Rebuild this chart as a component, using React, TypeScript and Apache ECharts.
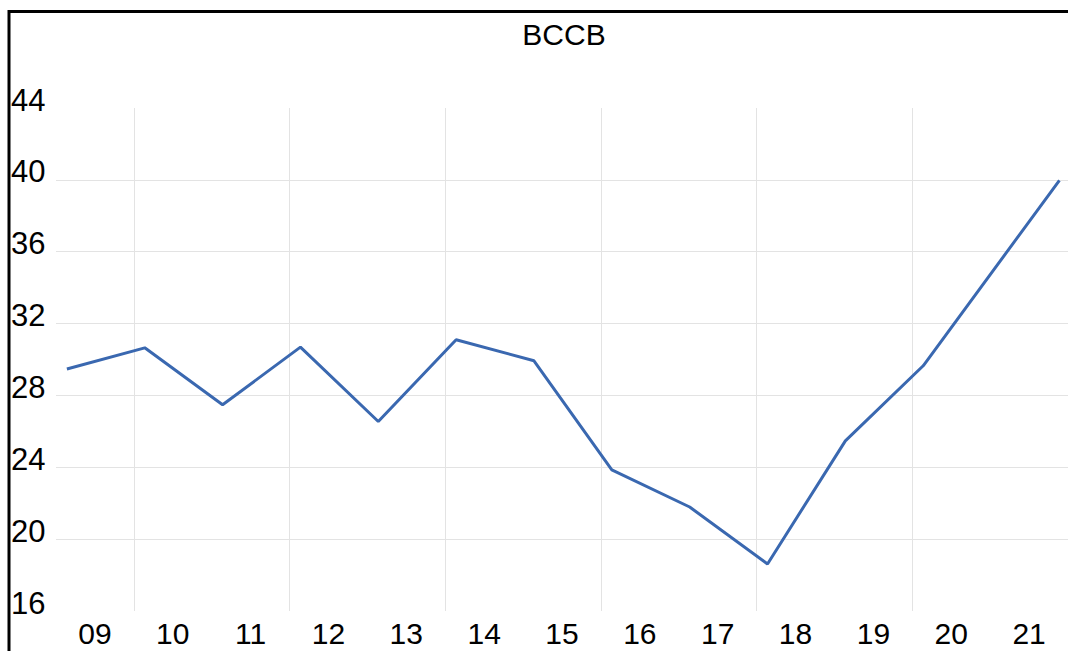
import React, { useEffect, useRef } from "react";
import * as echarts from "echarts";

const yearLabels = ["09", "10", "11", "12", "13", "14", "15", "16", "17", "18", "19", "20", "21"];
// position of each observation, in fractional years
const pointTimes = [2009.14, 2010.14, 2011.14, 2012.14, 2013.14, 2014.14, 2015.14, 2016.14, 2017.14, 2018.14, 2019.14, 2020.14, 2021.89];
const values = [29.47, 30.65, 27.48, 30.69, 26.55, 31.1, 29.93, 23.86, 21.79, 18.62, 25.47, 29.65, 39.97];
const yMin = 16;
const yMax = 44;
const yStep = 4;
const titleText = "BCCB";

const FONT = "'Liberation Sans', Arial, sans-serif";

export default function App() {
  const ref = useRef<HTMLDivElement>(null);
  useEffect(() => {
    if (!ref.current) return;
    const chart = echarts.init(ref.current, undefined, { renderer: "svg" });
    chart.setOption({
      animation: false,
      backgroundColor: "#ffffff",
      grid: { left: 56, right: -4, top: 108, bottom: 40 },
      graphic: [
        {
          type: "rect",
          shape: { x: 9, y: 11.5, width: 1075, height: 660 },
          style: { fill: "none", stroke: "#000", lineWidth: 3 },
          z: 100,
        },
        {
          type: "text",
          x: 564,
          y: 34,
          style: {
            text: titleText,
            font: `30px ${FONT}`,
            fill: "#000",
            textAlign: "center",
            textVerticalAlign: "middle",
          },
        },
      ],
      xAxis: [
        {
          type: "category",
          data: yearLabels,
          boundaryGap: true,
          axisLine: { show: false },
          axisTick: { show: false },
          axisLabel: { fontSize: 30, color: "#000", margin: 7, fontFamily: FONT, lineHeight: 30 },
          splitLine: {
            show: true,
            interval: (i: number) => i % 2 === 1,
            lineStyle: { color: "#e3e3e3", width: 1 },
          },
        },
        { type: "value", min: 2009, max: 2022, show: false },
      ],
      yAxis: {
        type: "value",
        min: yMin,
        max: yMax,
        interval: yStep,
        axisLine: { show: false },
        axisTick: { show: false },
        axisLabel: {
          align: "left",
          margin: 45,
          fontSize: 31,
          color: "#000",
          fontFamily: FONT,
          verticalAlign: "bottom",
          lineHeight: 16,
        },
        splitLine: {
          show: true,
          showMinLine: false,
          showMaxLine: false,
          lineStyle: { color: "#e3e3e3", width: 1 },
        },
      },
      series: [
        {
          type: "line",
          xAxisIndex: 1,
          data: pointTimes.map((t, i) => [t, values[i]]),
          symbol: "none",
          lineStyle: { color: "#3A68B0", width: 3 },
        },
      ],
    });
    return () => chart.dispose();
  }, []);
  return <div ref={ref} style={{ position: "absolute", left: 0, top: 0, width: 1068, height: 651 }} />;
}
